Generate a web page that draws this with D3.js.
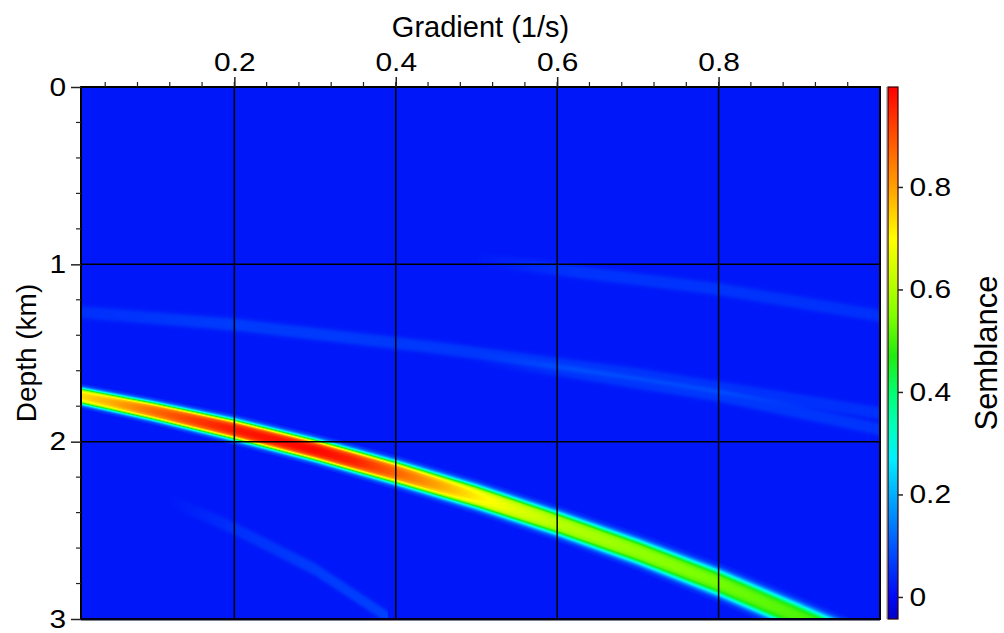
<!DOCTYPE html>
<html><head><meta charset="utf-8">
<script src="https://cdn.jsdelivr.net/npm/d3@7/dist/d3.min.js"></script>
<style>
body{margin:0;background:#fff;}
text{font-family:"Liberation Sans",Arial,Helvetica,sans-serif;fill:#000;}
</style>
</head><body>
<svg id="chart" width="1004" height="633"></svg>
<script>
// ---------- data ----------
const xTickValues = [0.2, 0.4, 0.6, 0.8];
const xTickLabels = ["0.2", "0.4", "0.6", "0.8"];
const yTickValues = [0, 1, 2, 3];
const yTickLabels = ["0", "1", "2", "3"];
const cbTickValues = [0, 0.2, 0.4, 0.6, 0.8];
const cbTickLabels = ["0", "0.2", "0.4", "0.6", "0.8"];
const gradientDomain = [0.01, 1.0];
const depthDomain = [0, 3];
const semblanceDomain = [-0.043, 0.995];

// semblance ridge: gradient (1/s), depth of maximum (km), half width (km)
const ridgeGradient  = [0.01, 0.1, 0.2, 0.3, 0.4, 0.5, 0.6, 0.7, 0.8, 0.9, 1.0];
const ridgeDepth     = [1.743, 1.828, 1.932, 2.047, 2.174, 2.31, 2.46, 2.62, 2.795, 2.99, 3.19];
const ridgeHalfWidth = [0.062, 0.068, 0.076, 0.08, 0.085, 0.088, 0.09, 0.094, 0.1, 0.104, 0.106];
// peak semblance along the ridge
const peakGradient = [0.01, 0.05, 0.1, 0.15, 0.2, 0.3, 0.35, 0.4, 0.45, 0.5, 0.55, 0.6, 0.7, 0.8, 0.9, 1.0];
const peakValue    = [0.74, 0.79, 0.87, 0.93, 0.97, 0.99, 0.96, 0.88, 0.8, 0.72, 0.66, 0.61, 0.57, 0.54, 0.51, 0.48];
// cross-section of the ridge: offset / half width -> fraction of peak
const profileOffset = [0, 0.2, 0.4, 0.5, 0.6, 0.7, 0.8, 0.9, 1.0, 1.2];
const profileLevel  = [1, 0.99, 0.93, 0.82, 0.65, 0.45, 0.27, 0.14, 0.06, 0];
const backgroundLevel = 0.02;
// faint secondary streaks: gradient, depth, semblance above background
const streakAGradient = [0.01, 0.2, 0.45, 0.7, 1.0];
const streakADepth    = [1.27, 1.34, 1.47, 1.62, 1.84];
const streakAValue    = [0.03, 0.045, 0.04, 0.035, 0.03];
const streakBGradient = [0.5, 0.62, 0.8, 1.0];
const streakBDepth    = [0.97, 1.04, 1.14, 1.29];
const streakBValue    = [0.0, 0.035, 0.035, 0.03];
const streakCGradient = [0.5, 0.62, 0.8, 1.0];
const streakCDepth    = [1.53, 1.61, 1.74, 1.93];
const streakCValue    = [0.0, 0.035, 0.04, 0.035];
const streakDGradient = [0.12, 0.2, 0.3, 0.39];
const streakDDepth    = [2.33, 2.49, 2.72, 2.99];
const streakDValue    = [0.0, 0.03, 0.045, 0.05];
const streakHalfWidth = 0.05;
// colour table
const cmapValues = [-0.043, 0.0, 0.1, 0.2, 0.27, 0.33, 0.4, 0.47, 0.55, 0.6, 0.7, 0.8, 0.9, 0.995];
const cmapColors = ["#0000c8", "#0008f8", "#0058ff", "#00b0ff", "#00f0ff", "#00ffc0", "#00ff70", "#20ec10",
                    "#80ff00", "#b0ff00", "#ffff00", "#ffa000", "#ff5000", "#ff0000"];

// ---------- layout ----------
const plot = {left: 81, top: 87, right: 880, bottom: 619};
const cb = {left: 888, right: 898};
const stretch = "scale(1.15,1)";

const svg = d3.select("#chart");
const x = d3.scaleLinear().domain(gradientDomain).range([plot.left, plot.right]);
const y = d3.scaleLinear().domain(depthDomain).range([plot.top, plot.bottom]);
const color = d3.scaleLinear().domain(cmapValues).range(cmapColors).interpolate(d3.interpolateRgb).clamp(true);
const cbY = d3.scaleLinear().domain(semblanceDomain).range([plot.bottom, plot.top]);

const ridgeC = d3.scaleLinear().domain(ridgeGradient).range(ridgeDepth);
const ridgeW = d3.scaleLinear().domain(ridgeGradient).range(ridgeHalfWidth);
const ridgeP = d3.scaleLinear().domain(peakGradient).range(peakValue);
const profile = d3.scaleLinear().domain(profileOffset).range(profileLevel).clamp(true);
const streaks = [
  [streakAGradient, streakADepth, streakAValue],
  [streakBGradient, streakBDepth, streakBValue],
  [streakCGradient, streakCDepth, streakCValue],
  [streakDGradient, streakDDepth, streakDValue]
].map(([gs, ds, vs]) => ({
  lo: gs[0], hi: gs[gs.length - 1],
  c: d3.scaleLinear().domain(gs).range(ds),
  a: d3.scaleLinear().domain(gs).range(vs)
}));

// ---------- heat map ----------
const W = plot.right - plot.left, H = plot.bottom - plot.top;
const canvas = document.createElement("canvas");
canvas.width = W; canvas.height = H;
const ctx = canvas.getContext("2d");
const img = ctx.createImageData(W, H);
for (let i = 0; i < W; i++) {
  const g = x.invert(plot.left + i + 0.5);
  const c = ridgeC(g), p = ridgeP(g), w = ridgeW(g);
  const sk = streaks.filter(s => g >= s.lo && g <= s.hi).map(s => [s.c(g), s.a(g)]);
  for (let j = 0; j < H; j++) {
    const d = y.invert(plot.top + j + 0.5);
    let v = backgroundLevel;
    for (const [sc, sa] of sk) v += sa * profile(Math.abs(d - sc) / streakHalfWidth);
    v += (p - v) * profile(Math.abs(d - c) / w);
    const col = d3.rgb(color(v));
    const idx = (j * W + i) * 4;
    img.data[idx] = col.r; img.data[idx + 1] = col.g; img.data[idx + 2] = col.b; img.data[idx + 3] = 255;
  }
}
ctx.putImageData(img, 0, 0);
svg.append("image").attr("x", plot.left).attr("y", plot.top).attr("width", W).attr("height", H)
  .attr("preserveAspectRatio", "none").attr("href", canvas.toDataURL());

// ---------- grid ----------
svg.append("g").selectAll("line").data(xTickValues).join("line")
  .attr("x1", d => x(d)).attr("x2", d => x(d)).attr("y1", plot.top).attr("y2", plot.bottom)
  .attr("stroke", "#000").attr("stroke-width", 1.5);
svg.append("g").selectAll("line").data(yTickValues.filter(d => d > 0 && d < 3)).join("line")
  .attr("x1", plot.left).attr("x2", plot.right).attr("y1", d => y(d)).attr("y2", d => y(d))
  .attr("stroke", "#000").attr("stroke-width", 1.5);
svg.append("rect").attr("x", plot.left).attr("y", plot.top).attr("width", W).attr("height", H)
  .attr("fill", "none").attr("stroke", "#000").attr("stroke-width", 2);
svg.append("line").attr("x1", plot.left).attr("x2", plot.right).attr("y1", plot.bottom + 0.5).attr("y2", plot.bottom + 0.5)
  .attr("stroke", "#000022").attr("stroke-width", 2);

// ---------- axes ----------
const xMinor = d3.range(0.04, 1.0, 0.04).map(v => +v.toFixed(2));
const xAxis = d3.axisTop(x).tickValues(xTickValues).tickFormat((d, i) => xTickLabels[i]).tickSize(10).tickPadding(6);
const gx = svg.append("g").attr("transform", `translate(0,${plot.top})`).call(xAxis);
gx.select(".domain").remove();
gx.selectAll("text").attr("font-size", 26).attr("font-family", "Liberation Sans, Arial, sans-serif")
  .attr("fill", "#000").attr("transform", stretch);
gx.selectAll("line").attr("stroke", "#222").attr("stroke-width", 1.5);
svg.append("g").selectAll("line").data(xMinor).join("line")
  .attr("x1", d => x(d)).attr("x2", d => x(d)).attr("y1", plot.top).attr("y2", plot.top - 5)
  .attr("stroke", "#222").attr("stroke-width", 1.2);

const yMinor = d3.range(0.2, 3.0, 0.2).map(v => +v.toFixed(1)).filter(v => Math.abs(v - Math.round(v)) > 0.01);
const yAxis = d3.axisLeft(y).tickValues(yTickValues).tickFormat((d, i) => yTickLabels[i]).tickSize(10).tickPadding(3);
const gy = svg.append("g").attr("transform", `translate(${plot.left},0)`).call(yAxis);
gy.select(".domain").remove();
gy.selectAll("text").attr("font-size", 26).attr("font-family", "Liberation Sans, Arial, sans-serif")
  .attr("fill", "#000").attr("transform", stretch);
gy.selectAll("line").attr("stroke", "#222").attr("stroke-width", 1.5);
svg.append("g").selectAll("line").data(yMinor).join("line")
  .attr("x1", plot.left - 5).attr("x2", plot.left).attr("y1", d => y(d)).attr("y2", d => y(d))
  .attr("stroke", "#222").attr("stroke-width", 1.2);

svg.append("text").attr("x", (plot.left + plot.right) / 2).attr("y", 37).attr("text-anchor", "middle")
  .attr("font-size", 29).text("Gradient (1/s)");
svg.append("text").attr("transform", `translate(36,${(plot.top + plot.bottom) / 2}) rotate(-90)`)
  .attr("text-anchor", "middle").attr("font-size", 28).text("Depth (km)");

// ---------- colour bar ----------
const cbH = H;
const cbCanvas = document.createElement("canvas");
cbCanvas.width = 1; cbCanvas.height = cbH;
const cbCtx = cbCanvas.getContext("2d");
for (let j = 0; j < cbH; j++) {
  cbCtx.fillStyle = color(cbY.invert(plot.top + j + 0.5));
  cbCtx.fillRect(0, j, 1, 1);
}
svg.append("image").attr("x", cb.left).attr("y", plot.top).attr("width", cb.right - cb.left).attr("height", cbH)
  .attr("preserveAspectRatio", "none").attr("href", cbCanvas.toDataURL());
svg.append("rect").attr("x", cb.left).attr("y", plot.top).attr("width", cb.right - cb.left).attr("height", cbH)
  .attr("fill", "none").attr("stroke", "#300").attr("stroke-width", 1.2);
svg.append("line").attr("x1", cb.left - 1.5).attr("x2", cb.left - 1.5).attr("y1", plot.top).attr("y2", plot.bottom)
  .attr("stroke", "#bbb").attr("stroke-width", 1);
const cbAxis = d3.axisRight(cbY).tickValues(cbTickValues).tickFormat((d, i) => cbTickLabels[i]).tickSize(5).tickPadding(5);
const gc = svg.append("g").attr("transform", `translate(${cb.right},0)`).call(cbAxis);
gc.select(".domain").remove();
gc.selectAll("text").attr("font-size", 26).attr("font-family", "Liberation Sans, Arial, sans-serif")
  .attr("fill", "#000").attr("transform", stretch);
gc.selectAll("line").attr("stroke", "#222").attr("stroke-width", 1.5);
svg.append("text").attr("transform", `translate(997,${(plot.top + plot.bottom) / 2}) rotate(-90)`)
  .attr("text-anchor", "middle").attr("font-size", 31).text("Semblance");
</script>
</body></html>
